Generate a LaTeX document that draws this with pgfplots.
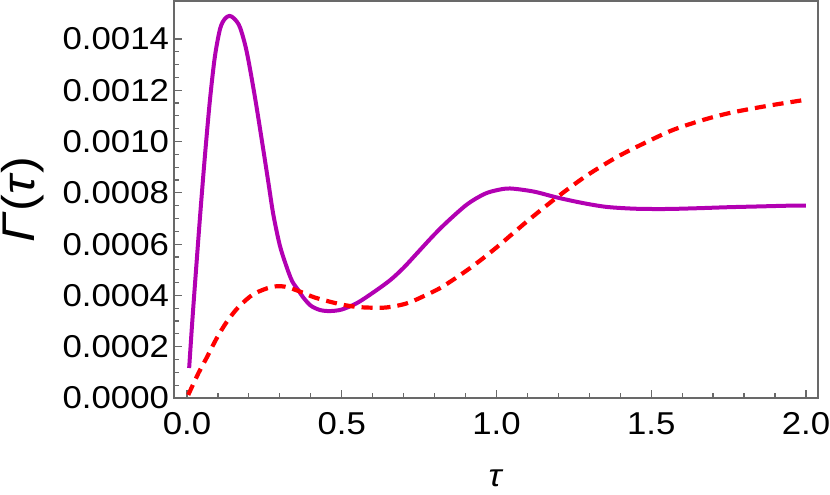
\documentclass[border=0pt]{standalone}
\usepackage{fontspec}
\setmainfont{Liberation Sans}[FakeStretch=1.1]
\usepackage{pgfplots}
\pgfplotsset{compat=1.18}

\definecolor{curvepurple}{RGB}{178,0,178}
\definecolor{framegray}{RGB}{105,105,105}

% Gamma(tau), solid curve
\pgfplotstableread{
t g
0.007 0.000117
0.016 0.00028
0.026 0.000447
0.042 0.000705
0.058 0.000945
0.074 0.00116
0.090 0.00133
0.107 0.00144
0.122 0.001478
0.137 0.00149
0.152 0.00148
0.171 0.001446
0.193 0.00135
0.220 0.00117
0.247 0.000965
0.263 0.00084
0.279 0.000715
0.300 0.000595
0.322 0.000511
0.340 0.000455
0.360 0.00042
0.375 0.000393
0.400 0.00036
0.430 0.000343
0.462 0.000339
0.500 0.000345
0.549 0.00037
0.600 0.00041
0.656 0.000459
0.700 0.000508
0.743 0.000564
0.795 0.000632
0.840 0.000686
0.905 0.000755
0.960 0.000795
1.000 0.00081
1.044 0.000817
1.120 0.000805
1.195 0.000782
1.280 0.00076
1.357 0.000745
1.450 0.000738
1.550 0.000737
1.650 0.00074
1.750 0.000744
1.850 0.000747
1.950 0.00075
2.000 0.00075
}\purpledata

% dashed curve
\pgfplotstableread{
t g
0.004 0.000012
0.037 0.000097
0.064 0.000158
0.096 0.000233
0.128 0.000296
0.166 0.000354
0.215 0.000405
0.274 0.000433
0.317 0.000434
0.365 0.000415
0.410 0.000393
0.460 0.000376
0.510 0.000362
0.560 0.000354
0.633 0.000352
0.680 0.00036
0.720 0.000373
0.770 0.0004
0.817 0.000428
0.865 0.000465
0.914 0.000506
0.960 0.000548
1.010 0.000597
1.100 0.00069
1.195 0.000782
1.290 0.000866
1.390 0.00094
1.480 0.000995
1.570 0.001045
1.670 0.001085
1.760 0.001113
1.880 0.00114
2.000 0.001163
}\reddata

\begin{document}
\begin{tikzpicture}
\begin{axis}[
    name=ax,
    width=322pt, height=198.5pt,
    scale only axis,
    xmin=-0.042, xmax=2.039,
    ymin=0, ymax=0.001548,
    axis line style={framegray, line width=0.75pt},
    xtick={0,0.5,1,1.5,2},
    ytick={0,0.0002,0.0004,0.0006,0.0008,0.001,0.0012,0.0014},
    minor x tick num=4,
    minor y tick num=3,
    xtick pos=bottom, ytick pos=left,
    tick align=inside,
    major tick length=4.2pt,
    minor tick length=2.3pt,
    every tick/.style={framegray, line width=0.6pt},
    scaled y ticks=false,
    /pgf/number format/assume math mode=true,
    ticklabel style={font=\fontsize{15.8}{18}\selectfont},
    xticklabel style={yshift=-3.7pt, /pgf/number format/fixed, /pgf/number format/fixed zerofill, /pgf/number format/precision=1},
    yticklabel style={xshift=1pt, /pgf/number format/fixed, /pgf/number format/fixed zerofill, /pgf/number format/precision=4},
    xlabel={\textit{τ}},
    ylabel={\textit{Γ}(\textit{τ})},
    xlabel style={font=\fontsize{15.8}{18}\selectfont, at={(axis description cs:0.5,0)}, anchor=center, yshift=-40pt, inner sep=1pt},
    ylabel style={font=\fontsize{22.9}{26}\selectfont, at={(axis description cs:0,0.5)}, anchor=center, yshift=75.5pt},
]
\addplot[curvepurple, line width=2pt, smooth, line join=round] table[x=t, y=g] {\purpledata};
\addplot[red, line width=2.1pt, smooth, dash pattern=on 5.5pt off 3.5pt] table[x=t, y=g] {\reddata};
\end{axis}
\pgfresetboundingbox
\path ([shift={(-87pt,-48pt)}]ax.south west) rectangle ([shift={(6pt,0.5pt)}]ax.north east);
\end{tikzpicture}
\end{document}
